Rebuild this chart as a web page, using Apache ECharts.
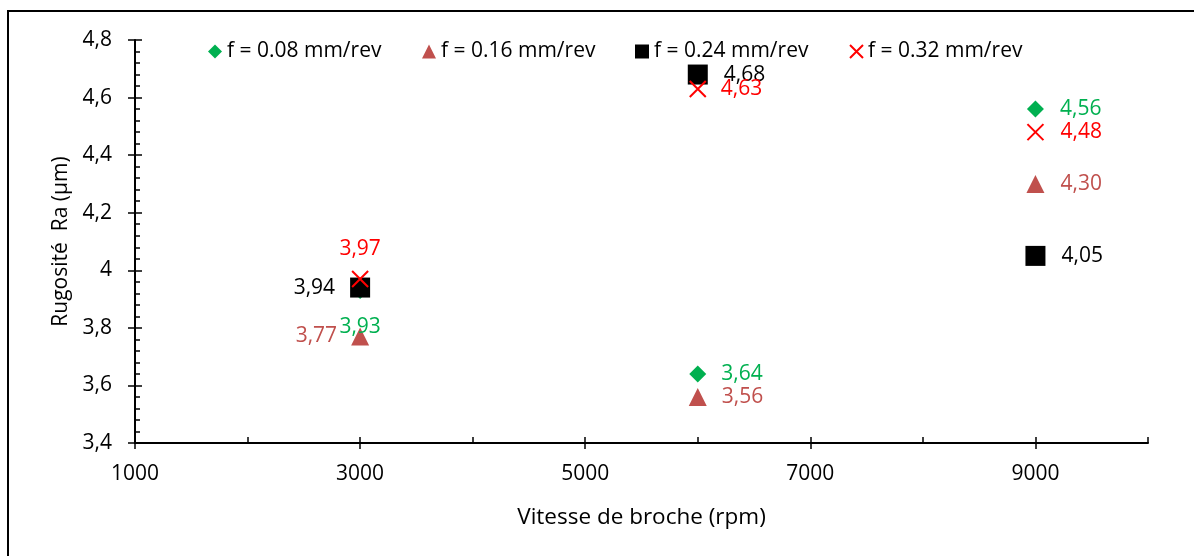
<!DOCTYPE html>
<html>
<head>
<meta charset="utf-8">
<script src="https://cdn.jsdelivr.net/npm/echarts@6/dist/echarts.min.js"></script>
<style>
html,body{margin:0;padding:0;background:#fff;}
#chart{width:1194px;height:556px;}
</style>
</head>
<body>
<div id="chart"></div>
<script>
// ---- data ----
const speeds = [3000, 6000, 9000];
const seriesNames = ['f = 0.08 mm/rev', 'f = 0.16 mm/rev', 'f = 0.24 mm/rev', 'f = 0.32 mm/rev'];
const ra008 = [3.93, 3.64, 4.56];
const ra016 = [3.77, 3.56, 4.30];
const ra024 = [3.94, 4.68, 4.05];
const ra032 = [3.97, 4.63, 4.48];
const xTickLabels = [1000, 3000, 5000, 7000, 9000];
const yTickLabels = [3.4, 3.6, 3.8, 4.0, 4.2, 4.4, 4.6, 4.8];
const xTitle = 'Vitesse de broche (rpm)';
const yTitle = 'Rugosité  Ra (µm)';

// ---- chart ----
const FONT = '"Open Sans"';
const FS = 21;
const chart = echarts.init(document.getElementById('chart'), null, {renderer: 'canvas'});
const fmt = v => v.toFixed(2).replace('.', ',');
const crossPath = 'path://M0,0L10,10M10,0L0,10';

function pts(vals) { return speeds.map((s, i) => [s, vals[i]]); }
function mkSeries(name, vals, color, symbol, size, positions, distances, itemStyle) {
  return {
    name: name,
    type: 'scatter',
    xAxisIndex: 0, yAxisIndex: 0,
    symbol: symbol,
    symbolSize: size,
    itemStyle: itemStyle || {color: color, opacity: 1},
    data: pts(vals).map((p, i) => ({
      value: p,
      label: {position: positions[i], distance: distances[i]}
    })),
    label: {
      show: true, color: color, fontFamily: FONT, fontSize: FS, opacity: 1,
      formatter: p => fmt(p.value[1])
    },
    emphasis: {disabled: true},
    z: 3
  };
}

const green = '#00B050', brick = '#C0504D', black = '#000000', red = '#FF0000';

const series = [
  mkSeries(seriesNames[0], ra008, green, 'diamond', 17, ['bottom', 'right', 'right'], [18, 15, 16]),
  mkSeries(seriesNames[1], ra016, brick, 'triangle', 18, ['left', 'right', 'right'], [14, 15, 16]),
  mkSeries(seriesNames[2], ra024, black, 'rect', 20, ['left', 'right', 'right'], [15, 16, 16]),
  mkSeries(seriesNames[3], ra032, red, crossPath, 16, ['top', 'right', 'right'], [10, 14, 16],
    {color: 'rgba(0,0,0,0)', borderColor: red, borderWidth: 2, opacity: 1})
];

function legend(name, left, icon, size) {
  return {
    data: [{name: name, icon: icon}],
    left: left, top: 36,
    itemWidth: size, itemHeight: size, itemGap: 0,
    textStyle: {fontFamily: FONT, fontSize: FS, color: '#000'},
    selectedMode: false
  };
}

const axisLine = {show: true, lineStyle: {color: '#000', width: 2}};

chart.setOption({
  animation: false,
  backgroundColor: '#fff',
  graphic: [{
    type: 'rect', shape: {x: 8, y: 11, width: 1300, height: 700},
    style: {fill: 'none', stroke: '#000', lineWidth: 2}, silent: true, z: 0
  }],
  legend: [
    legend(seriesNames[0], 203, 'diamond', 14),
    legend(seriesNames[1], 417, 'triangle', 14),
    legend(seriesNames[2], 630, 'rect', 14),
    legend(seriesNames[3], 844, crossPath, 13)
  ],
  grid: {left: 135, right: 46, top: 40, bottom: 113, containLabel: false},
  xAxis: [{
    type: 'value', min: 1000, max: 10000, interval: 2000,
    name: xTitle, nameLocation: 'middle', nameGap: 63,
    nameTextStyle: {fontFamily: FONT, fontSize: 22.5, color: '#000'},
    axisLine: axisLine,
    axisTick: {show: true, inside: false, length: 6, lineStyle: {color: '#000', width: 1.5}, customValues: xTickLabels},
    axisLabel: {show: true, fontFamily: FONT, fontSize: FS, color: '#000', margin: 21, customValues: xTickLabels,
      formatter: v => String(v)},
    splitLine: {show: false}
  }, {
    type: 'value', min: 1000, max: 10000, interval: 1000, position: 'bottom',
    axisLine: {show: false},
    axisTick: {show: true, inside: true, length: 6, lineStyle: {color: '#000', width: 1.5}},
    axisLabel: {show: false},
    splitLine: {show: false}
  }],
  yAxis: [{
    type: 'value', min: 3.4, max: 4.8, interval: 0.2,
    name: yTitle, nameLocation: 'middle', nameGap: 62,
    nameTextStyle: {fontFamily: FONT, fontSize: 21, color: '#000'},
    axisLine: axisLine,
    axisTick: {show: true, inside: false, length: 7, lineStyle: {color: '#000', width: 1.5}, customValues: yTickLabels},
    axisLabel: {show: true, fontFamily: FONT, fontSize: FS, color: '#000', margin: 23, customValues: yTickLabels,
      formatter: v => String(Math.round(v * 10) / 10).replace('.', ',')},
    splitLine: {show: false}
  }, {
    type: 'value', min: 3.4, max: 4.8, interval: 0.2, position: 'left',
    axisLine: {show: false},
    axisTick: {show: true, inside: true, length: 7, lineStyle: {color: '#000', width: 1.5}},
    minorTick: {show: true, splitNumber: 5, length: 5, lineStyle: {color: '#000', width: 1.5}},
    axisLabel: {show: false},
    splitLine: {show: false}
  }],
  series: series
});
</script>
</body>
</html>
